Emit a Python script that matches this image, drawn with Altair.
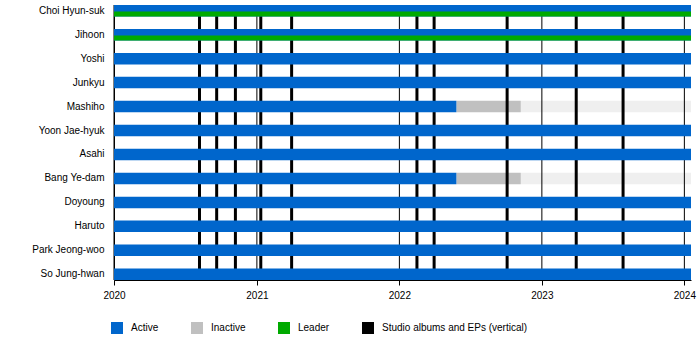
import altair as alt
import pandas as pd

# ---- data ----
members = ["Choi Hyun-suk", "Jihoon", "Yoshi", "Junkyu", "Mashiho", "Yoon Jae-hyuk",
           "Asahi", "Bang Ye-dam", "Doyoung", "Haruto", "Park Jeong-woo", "So Jung-hwan"]
active_start = ["2020-01-01"] * 12
active_end = ["2024-01-18", "2024-01-18", "2024-01-18", "2024-01-18", "2022-05-27", "2024-01-18",
              "2024-01-18", "2022-05-27", "2024-01-18", "2024-01-18", "2024-01-18", "2024-01-18"]

inactive_members = ["Mashiho", "Bang Ye-dam"]
inactive_start = ["2022-05-27", "2022-05-27"]
inactive_end = ["2022-11-08", "2022-11-08"]
former_end = ["2024-01-18", "2024-01-18"]

leaders = ["Choi Hyun-suk", "Jihoon"]
leader_start = ["2020-01-01", "2020-01-01"]
leader_end = ["2024-01-18", "2024-01-18"]

album_dates = ["2020-08-07", "2020-09-20", "2020-11-07", "2021-01-11", "2021-03-31",
               "2022-02-15", "2022-03-31", "2022-10-04", "2023-03-30", "2023-07-28"]
year_lines = ["2020-01-01", "2021-01-01", "2022-01-01", "2023-01-01", "2024-01-01"]
tick_years = [2020, 2021, 2022, 2023, 2024]

legend_labels = ["Active", "Inactive", "Leader", "Studio albums and EPs (vertical)"]
legend_colors = ["#0066cc", "#c0c0c0", "#00aa00", "#000000"]

# ---- tables ----
df_active = pd.DataFrame({"member": members, "start": active_start, "end": active_end, "status": "Active"})
df_inactive = pd.DataFrame({"member": inactive_members, "start": inactive_start, "end": inactive_end,
                            "status": "Inactive"})
df_former = pd.DataFrame({"member": inactive_members, "start": inactive_end, "end": former_end})
df_leader = pd.DataFrame({"member": leaders, "start": leader_start, "end": leader_end, "status": "Leader"})
df_albums = pd.DataFrame({"date": album_dates})
df_years = pd.DataFrame({"date": year_lines})

x_scale = alt.Scale(type="utc",
                    domain=[alt.DateTime(year=2020, month=1, date=1, utc=True),
                            alt.DateTime(year=2024, month=1, date=18, utc=True)])
x_axis = alt.Axis(title=None, values=[alt.DateTime(year=y, month=1, date=1, utc=True) for y in tick_years],
                  format="%Y", grid=False, domainColor="black", tickColor="black", tickSize=5,
                  labelFontSize=10, labelColor="black", labelPadding=5, labelFlush=False,
                  labelOverlap=False)
y_enc = alt.Y("member:N", title=None, sort=members,
              scale=alt.Scale(domain=members, paddingInner=0.52, paddingOuter=0),
              axis=alt.Axis(ticks=False, domainColor="black", labelFontSize=10, labelColor="black",
                            labelPadding=10, labelLimit=300))
color_enc = alt.Color("status:N",
                      scale=alt.Scale(domain=legend_labels, range=legend_colors),
                      legend=alt.Legend(title=None, orient="none", legendX=-3, legendY=317,
                                        direction="horizontal", symbolType="square", symbolSize=144,
                                        symbolStrokeWidth=0, symbolOpacity=1, labelFontSize=10,
                                        labelColor="black", labelOffset=8, columnPadding=32,
                                        padding=0))


def xs():
    return alt.X("start:T", scale=x_scale, axis=x_axis)


former = alt.Chart(df_former).mark_bar(color="#efefef").encode(x=xs(), x2="end:T", y=y_enc)
inactive = alt.Chart(df_inactive).mark_bar().encode(x=xs(), x2="end:T", y=y_enc, color=color_enc)
years = alt.Chart(df_years).mark_rule(color="black", strokeWidth=1).encode(
    x=alt.X("date:T", scale=x_scale, axis=x_axis))
albums = alt.Chart(df_albums).mark_rule(color="black", strokeWidth=3).encode(
    x=alt.X("date:T", scale=x_scale, axis=x_axis))
active = alt.Chart(df_active).mark_bar().encode(x=xs(), x2="end:T", y=y_enc, color=color_enc)
leader = alt.Chart(df_leader).mark_bar(height=5, yOffset=3.25).encode(
    x=xs(), x2="end:T", y=y_enc, color=color_enc)

chart = alt.layer(former, inactive, years, albums, active, leader).properties(
    width=577, height=275,
    autosize=alt.AutoSizeParams(type="none"),
    padding={"left": 114, "top": 5, "right": 9, "bottom": 70},
).configure(font="Liberation Sans").configure_view(stroke=None)

chart.save("out.html", embed_options={"renderer": "svg", "actions": False})
